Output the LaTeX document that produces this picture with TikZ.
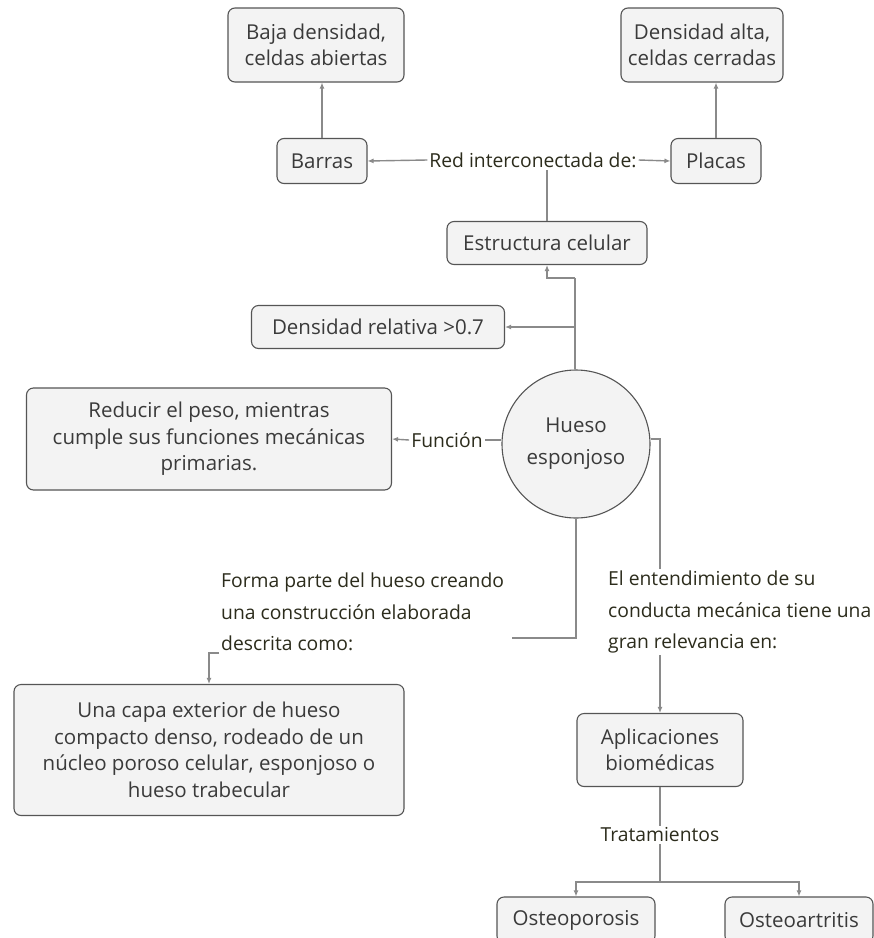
\documentclass[tikz,border=0pt]{standalone}
\usepackage{fontspec}
\setmainfont{Open Sans}
\usetikzlibrary{arrows.meta}
\definecolor{boxfill}{HTML}{F3F3F3}
\definecolor{boxline}{HTML}{555555}
\definecolor{wire}{HTML}{8A8A8A}
\definecolor{conctext}{HTML}{3A3A3A}
\definecolor{linktext}{HTML}{2C2C1C}
\tikzset{
  concept/.style={draw=boxline,fill=boxfill,rounded corners=7pt,line width=1.1pt,
    text=conctext,align=center,font=\fontsize{20.5}{26.5}\selectfont},
  linkph/.style={text=linktext,align=left,inner sep=2pt,font=\fontsize{19.3}{31.5}\selectfont},
  conn/.style={draw=wire,line width=1.4pt},
  arr/.style={conn,-{Latex[length=6pt,width=5pt]}}
}
\begin{document}
\begin{tikzpicture}[x=1pt,y=-1pt]
  \useasboundingbox[fill=white] (0,0) rectangle (874,938);

  % top level
  \node[concept,minimum width=176,minimum height=74] (baja) at (316,45) {Baja densidad,\\celdas abiertas};
  \node[concept,minimum width=162,minimum height=74] (alta) at (702,45) {Densidad alta,\\celdas cerradas};
  \node[concept,minimum width=90,minimum height=45] (barras) at (322,161) {Barras};
  \node[concept,minimum width=90,minimum height=45] (placas) at (716,161) {Placas};
  \node[linkph] (red) at (533,160) {Red interconectada de:};
  \node[concept,minimum width=200,minimum height=43] (estr) at (547,243) {Estructura celular};
  \node[concept,minimum width=253,minimum height=43] (dens) at (378,327) {Densidad relativa >0.7};

  % centre
  \node[concept,circle,minimum size=148,inner sep=0pt,font=\fontsize{20.5}{32}\selectfont] (hueso) at (576,444) {Hueso\\esponjoso};
  \node[linkph] (func) at (447,440) {Función};
  \node[concept,minimum width=365,minimum height=102] (reducir) at (209,439) {Reducir el peso, mientras\\cumple sus funciones mecánicas\\primarias.};
  \node[linkph,anchor=west] (forma) at (219,612) {Forma parte del hueso creando\\una construcción elaborada\\descrita como:};
  \node[linkph,anchor=west] (ent) at (606,612) {El entendimiento de su\\conducta mecánica tiene una\\gran relevancia en:};
  \node[concept,minimum width=390,minimum height=131] (capa) at (209,750) {Una capa exterior de hueso\\compacto denso, rodeado de un\\núcleo poroso celular, esponjoso o\\hueso trabecular};

  % bottom
  \node[concept,minimum width=166,minimum height=73] (apl) at (660,750) {Aplicaciones\\biomédicas};
  \node[linkph] (trat) at (660,835) {Tratamientos};
  \node[concept,minimum width=158,minimum height=46] (osteop) at (576,920) {Osteoporosis};
  \node[concept,minimum width=148,minimum height=46] (osteoa) at (799,920) {Osteoartritis};

  \coordinate (knot) at (575,278);
  \coordinate (fork) at (660,882);

  \draw[conn] (estr.north) -- (estr.north |- red.south);
  \draw[arr] (red.west) -- (barras.east);
  \draw[arr] (red.east) -- (placas.west);
  \draw[arr] (barras.north) -- (barras.north |- baja.south);
  \draw[arr] (placas.north) -- (placas.north |- alta.south);

  \draw[conn] (hueso.north -| knot) -- (knot);
  \draw[arr] (knot) -| (estr.south);
  \draw[arr] (knot |- dens.east) -- (dens.east);

  \draw[conn] (hueso.west |- func.east) -- (func.east);
  \draw[arr] (func.west) -- (reducir.east);

  \draw[conn] (hueso.south) |- ([yshift=-26pt,xshift=6pt]forma.east);
  \draw[arr] (forma.south west) -| (capa.north);

  \draw[conn] (hueso.east |- 0,439) -| (ent.north -| apl.north);
  \draw[arr] (ent.south -| apl.north) -- (apl.north);

  \draw[conn] (apl.south) -- (trat.north);
  \draw[conn] (trat.south) -- (fork);
  \draw[arr] (fork) -| (osteop.north);
  \draw[arr] (fork) -| (osteoa.north);
\end{tikzpicture}
\end{document}
